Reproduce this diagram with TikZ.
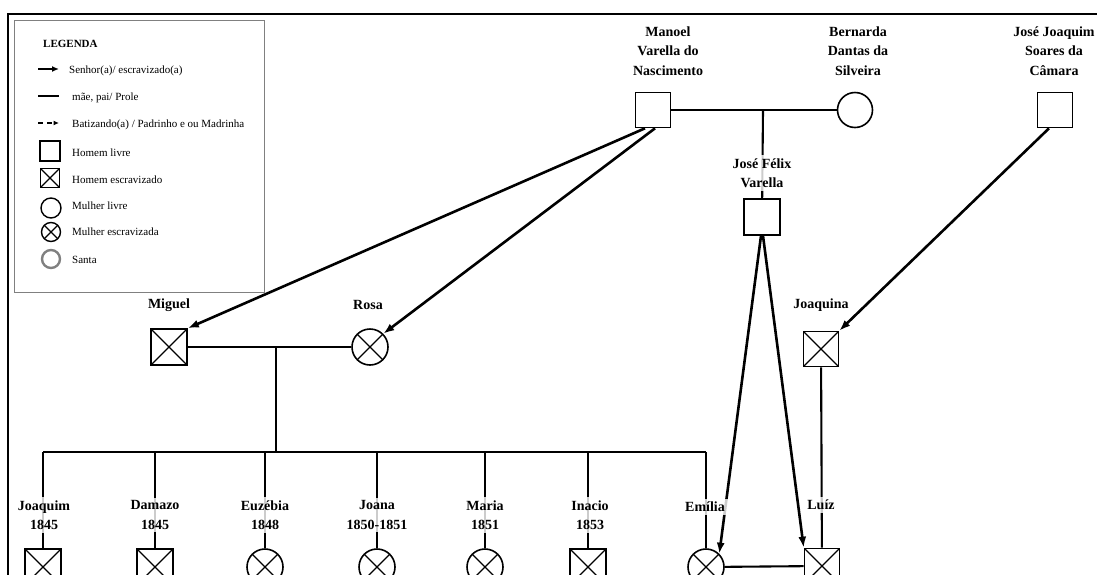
\documentclass[tikz,border=0pt]{standalone}
\usepackage{fontspec}
\setmainfont{Liberation Serif}
\usetikzlibrary{arrows.meta}

\tikzset{
  homem/.style={draw,line width=1.6pt,minimum size=35pt,inner sep=0pt},
  mulher/.style={draw,circle,line width=1.6pt,minimum size=36pt,inner sep=0pt},
  escravo/.style={path picture={\draw[line width=1.1pt]
      (path picture bounding box.north west) -- (path picture bounding box.south east)
      (path picture bounding box.north east) -- (path picture bounding box.south west);}},
  nome/.style={fill=white,fill opacity=0.8,text opacity=1,align=center,inner sep=3pt,
      font=\fontsize{14}{19.5}\selectfont\bfseries},
  lig/.style={line width=2.1pt},
  senhor/.style={line width=2.6pt,-{Latex[length=11pt,width=8pt]}},
  leg/.style={anchor=west,inner sep=0pt,font=\fontsize{11}{12}\selectfont},
}

\begin{document}
\begin{tikzpicture}[x=1pt,y=-1pt]
\useasboundingbox (0,0) rectangle (1097,574);
\clip (0,0) rectangle (1097,574);

% moldura
\draw[line width=1.3pt] (8,590) -- (8,14) -- (1110,14);

% legenda
\draw[gray,line width=0.9pt] (14,20) rectangle (264,292);
\node[leg,font=\fontsize{11}{12}\selectfont\bfseries] (legenda) at (43,44) {LEGENDA};
\coordinate (seta-a) at (38,69);
\coordinate (seta-b) at (59,69);
\coordinate (linha-a) at (38,96);
\coordinate (linha-b) at (59,96);
\coordinate (bat-a) at (38,123);
\coordinate (bat-b) at (59,123);
\draw[line width=1.9pt,-{Latex[length=7pt,width=6pt]}] (seta-a) -- (seta-b);
\draw[line width=1.4pt] (linha-a) -- (linha-b);
\draw[line width=1.4pt,dash pattern=on 5pt off 4pt,-{Latex[length=5.5pt,width=5pt]}] (bat-a) -- (bat-b);
\node[homem,line width=1.4pt,minimum size=20pt] (l-homem) at (50,151) {};
\node[homem,escravo,line width=1.4pt,minimum size=19pt] (l-homemesc) at (50,178) {};
\node[mulher,line width=1.4pt,minimum size=20pt] (l-mulher) at (51,208) {};
\node[mulher,escravo,line width=1.4pt,minimum size=19pt] (l-mulheresc) at (51,232) {};
\node[mulher,draw=gray,line width=2.4pt,minimum size=18pt] (l-santa) at (51,259) {};
\node[leg] (t-senhor) at (69,71) {Senhor(a)/ escravizado(a)};
\node[leg] (t-prole) at (72,98) {mãe, pai/ Prole};
\node[leg] (t-bat) at (72,125) {Batizando(a) / Padrinho e ou Madrinha};
\node[leg] (t-homem) at (72,153) {Homem livre};
\node[leg] (t-homemesc) at (72,180) {Homem escravizado};
\node[leg] (t-mulher) at (72,206) {Mulher livre};
\node[leg] (t-mulheresc) at (72,232) {Mulher escravizada};
\node[leg] (t-santa) at (72,260) {Santa};

% pessoas
\node[homem] (manoel) at (653,110) {};
\node[mulher,minimum size=35pt] (bernarda) at (855,110) {};
\node[homem] (jjoaquim) at (1055,110) {};
\node[homem,minimum size=36pt] (jose) at (762,217) {};
\node[homem,escravo,minimum size=36pt] (miguel) at (169,347) {};
\node[mulher,escravo] (rosa) at (370,347) {};
\node[homem,escravo] (joaquina) at (821,349) {};

\node[homem,escravo,minimum size=36pt] (joaquim) at (43,567) {};
\node[homem,escravo,minimum size=36pt] (damazo) at (155,567) {};
\node[mulher,escravo] (euzebia) at (265,567) {};
\node[mulher,escravo] (joana) at (377,567) {};
\node[mulher,escravo] (maria) at (485,567) {};
\node[homem,escravo,minimum size=36pt] (inacio) at (588,567) {};
\node[mulher,escravo] (emilia) at (706,567) {};
\node[homem,escravo,minimum size=35pt] (luiz) at (822,566) {};

% ligacoes de familia
\coordinate (casal1) at (763,110);
\coordinate (casal2) at (276,347);
\coordinate (prole) at (276,452);
\draw[lig] (manoel) -- (bernarda);
\draw[lig] (casal1) -- (jose);
\draw[lig] (miguel) -- (rosa);
\draw[lig] (casal2) -- (prole);
\draw[lig] (prole -| joaquim) -- (prole -| emilia);
\foreach \filho in {joaquim,damazo,euzebia,joana,maria,inacio,emilia}
  \draw[lig] (prole -| \filho) -- (\filho);
\draw[lig] (emilia) -- (luiz);
\draw[lig] (joaquina) -- (luiz);

% senhor / escravizado
\draw[senhor] ([xshift=-8pt]manoel.south) -- (miguel.north east);
\draw[senhor] ([xshift=2pt]manoel.south) -- (rosa.north east);
\draw[senhor] ([xshift=-1pt]jose.south) -- (emilia.north east);
\draw[senhor] ([xshift=1pt]jose.south) -- (luiz.north west);
\draw[senhor] ([xshift=-6pt]jjoaquim.south) -- (joaquina.north east);

% nomes
\node[nome] (n-manoel) at (668,51) {Manoel\\Varella do\\Nascimento};
\node[nome] (n-bernarda) at (858,51) {Bernarda\\Dantas da\\Silveira};
\node[nome] (n-jjoaquim) at (1054,51) {José Joaquim\\Soares da\\Câmara};
\node[nome] (n-jose) at (762,173) {José Félix\\Varella};
\node[nome] (n-miguel) at (169,305) {Miguel};
\node[nome] (n-rosa) at (368,305) {Rosa};
\node[nome] (n-joaquina) at (821,305) {Joaquina};
\node[nome] (n-joaquim) at (44,515) {Joaquim\\1845};
\node[nome] (n-damazo) at (155,515) {Damazo\\1845};
\node[nome] (n-euzebia) at (265,515) {Euzébia\\1848};
\node[nome] (n-joana) at (377,515) {Joana\\1850-1851};
\node[nome] (n-maria) at (485,515) {Maria\\1851};
\node[nome] (n-inacio) at (590,515) {Inacio\\1853};
\node[nome] (n-emilia) at (705,507) {Emília};
\node[nome] (n-luiz) at (821,505) {Luíz};
\end{tikzpicture}
\end{document}
